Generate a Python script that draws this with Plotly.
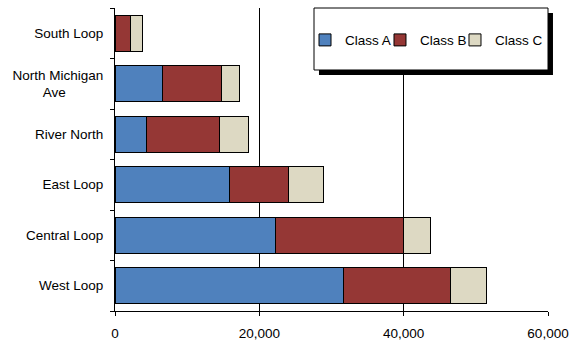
import plotly.graph_objects as go

categories = ["West Loop", "Central Loop", "East Loop", "River North",
              "North Michigan<br>Ave" + "\u00a0" * 10, "South Loop"]
class_a = [31700, 22300, 15900, 4300, 6600, 0]
class_b = [14850, 17650, 8150, 10150, 8100, 2200]
class_c = [4900, 3750, 4800, 4000, 2600, 1650]
series_names = ["Class A", "Class B", "Class C"]
colors = ["#4F81BD", "#953735", "#DDD9C3"]
x_ticks = [0, 20000, 40000, 60000]
x_tick_labels = ["0", "20,000", "40,000", "60,000"]

FONT = "Liberation Sans, Arial, sans-serif"
legend_ids = ["legend", "legend2", "legend3"]
legend_x = [0.4388, 0.612, 0.7852]

fig = go.Figure()
for name, vals, col, lid in zip(series_names, [class_a, class_b, class_c], colors, legend_ids):
    fig.add_trace(go.Bar(
        y=categories, x=vals, name=name, orientation="h", legend=lid,
        marker=dict(color=col, line=dict(color="black", width=1)),
    ))

legend_common = dict(
    orientation="h", xanchor="left", y=0.894, yanchor="middle",
    bgcolor="rgba(0,0,0,0)", borderwidth=0,
    font=dict(family=FONT, size=13.5, color="black"),
)

fig.update_layout(
    width=571, height=341,
    margin=dict(l=115, r=23, t=8, b=30, autoexpand=False),
    barmode="stack", bargap=0.29,
    plot_bgcolor="white", paper_bgcolor="white",
    font=dict(family=FONT, size=13.5, color="black"),
    showlegend=True,
    legend=dict(x=legend_x[0], **legend_common),
    legend2=dict(x=legend_x[1], **legend_common),
    legend3=dict(x=legend_x[2], **legend_common),
    xaxis=dict(
        range=[0, 60000], tickvals=x_ticks, ticktext=x_tick_labels,
        showgrid=True, gridcolor="black", gridwidth=1, zeroline=False,
        showline=True, linecolor="black", linewidth=1,
        ticks="outside", ticklen=4, tickcolor="black",
        ticklabelstandoff=6, fixedrange=True, automargin=False,
    ),
    yaxis=dict(
        showline=True, linecolor="black", linewidth=1,
        ticks="outside", ticklen=4, tickcolor="black", tickson="boundaries",
        showgrid=False, ticklabelstandoff=8, fixedrange=True, automargin=False,
    ),
    shapes=[
        dict(type="rect", xref="paper", yref="paper", x0=0.4711, x1=1.0115,
             y0=0.7789, y1=0.9835, fillcolor="black", line=dict(width=0), layer="above"),
        dict(type="rect", xref="paper", yref="paper", x0=0.4596, x1=1.0,
             y0=0.7954, y1=1.0, fillcolor="white", line=dict(color="black", width=1), layer="above"),
    ],
)

fig.write_html("out.html")
